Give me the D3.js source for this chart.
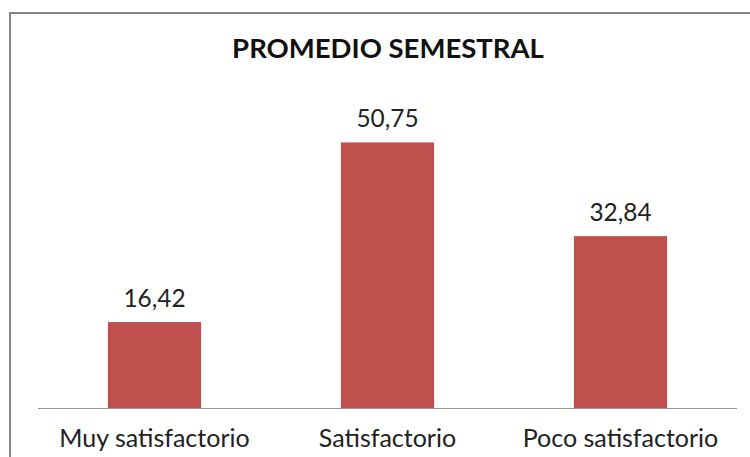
<!DOCTYPE html>
<html>
<head>
<meta charset="utf-8">
<script src="https://cdn.jsdelivr.net/npm/d3@7"></script>
<style>
  html, body { margin: 0; padding: 0; background: #fff; }
  svg { display: block; font-family: Lato, "Open Sans", sans-serif; }
</style>
</head>
<body>
<div id="chart"></div>
<script>
const categories = ["Muy satisfactorio", "Satisfactorio", "Poco satisfactorio"];
const values = [16.42, 50.75, 32.84];
const valueLabels = ["16,42", "50,75", "32,84"];
const title = "PROMEDIO SEMESTRAL";

const width = 750, height = 457;

const svg = d3.select("#chart").append("svg")
  .attr("width", width).attr("height", height);

// chart frame (runs off the right and bottom edges)
svg.append("rect")
  .attr("x", 10).attr("y", 13)
  .attr("width", 800).attr("height", 500)
  .attr("fill", "#fff")
  .attr("stroke", "#858585").attr("stroke-width", 2);

const x = d3.scaleBand().domain(categories)
  .range([38, 737]).paddingInner(0.6).paddingOuter(0.3);
const y = d3.scaleLinear().domain([0, 60]).range([408, 94]);

svg.append("text")
  .attr("x", 388).attr("y", 58)
  .attr("text-anchor", "middle")
  .attr("font-weight", "bold").attr("font-size", 27.5)
  .attr("fill", "#111")
  .text(title);

svg.append("g").selectAll("rect").data(values).join("rect")
  .attr("x", (d, i) => x(categories[i]))
  .attr("y", d => y(d))
  .attr("width", x.bandwidth())
  .attr("height", d => y(0) - y(d))
  .attr("fill", "#C0504D");

svg.append("g").selectAll("text").data(values).join("text")
  .attr("x", (d, i) => x(categories[i]) + x.bandwidth() / 2)
  .attr("y", d => y(d) - 15)
  .attr("text-anchor", "middle")
  .attr("font-size", 24.4)
  .attr("fill", "#222")
  .text((d, i) => valueLabels[i]);

// category axis
const axis = svg.append("g")
  .attr("transform", `translate(0,${y(0)})`)
  .call(d3.axisBottom(x).tickSize(0).tickPadding(0));
axis.select(".domain").attr("stroke", "#999").attr("d", "M38,0.5H737");
axis.selectAll("text")
  .attr("y", 39).attr("dy", null)
  .attr("font-family", "Lato, 'Open Sans', sans-serif")
  .attr("font-size", 25)
  .attr("fill", "#222");
</script>
</body>
</html>
